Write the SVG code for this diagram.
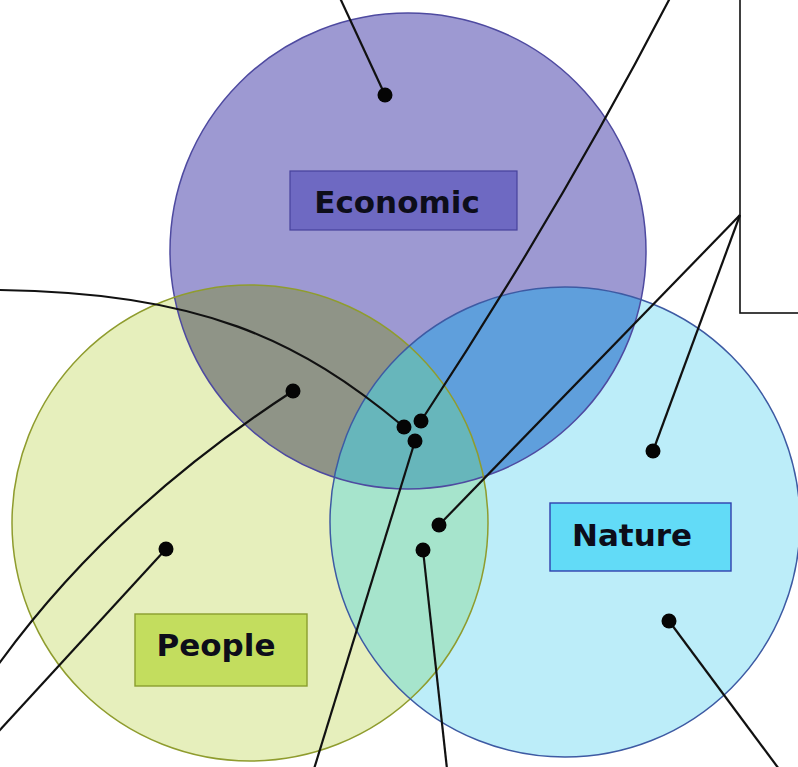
<svg xmlns="http://www.w3.org/2000/svg" width="798" height="767" viewBox="0 0 798 767">
<style>
.lbl{font-family:"DejaVu Sans","Liberation Sans",sans-serif;font-weight:bold;font-size:31px;fill:#0d0d1a;text-anchor:middle}
.conn{fill:none;stroke:#111;stroke-width:2.2}
.dot{fill:#050505}
.ring{fill:none;stroke-width:1.5}
</style>
<defs>
<clipPath id="cE"><circle cx="408" cy="251" r="238"/></clipPath>
<clipPath id="cP"><circle cx="250" cy="523" r="238"/></clipPath>
<clipPath id="cN"><circle cx="565" cy="522" r="235"/></clipPath>
</defs>
<rect width="798" height="767" fill="#ffffff"/>
<g id="box">
<rect x="740" y="-2" width="70" height="315" fill="#ffffff" stroke="#111" stroke-width="1.6"/>
</g>
<g id="economic">
<circle cx="408" cy="251" r="238" fill="#9d99d2"/>
</g>
<g id="people">
<circle cx="250" cy="523" r="238" fill="#e6efbc"/>
</g>
<g id="nature">
<circle cx="565" cy="522" r="235" fill="#bcedf9"/>
</g>
<g id="overlaps">
<g clip-path="url(#cE)"><circle cx="250" cy="523" r="238" fill="#8f9487"/></g>
<g clip-path="url(#cE)"><circle cx="565" cy="522" r="235" fill="#5f9fdc"/></g>
<g clip-path="url(#cP)"><circle cx="565" cy="522" r="235" fill="#a6e4cc"/></g>
<g clip-path="url(#cP)"><g clip-path="url(#cE)"><circle cx="565" cy="522" r="235" fill="#67b6bb"/></g></g>
</g>
<g id="outlines">
<circle class="ring" cx="408" cy="251" r="238" stroke="#4e4aa0"/>
<circle class="ring" cx="250" cy="523" r="238" stroke="#8f9c2e"/>
<circle class="ring" cx="565" cy="522" r="235" stroke="#3d5aa3"/>
</g>
<g id="label-economic">
<rect x="290" y="171" width="227" height="59" fill="#6e69c2" stroke="#46429c" stroke-width="1.2"/>
<text class="lbl" x="397" y="213">Economic</text>
</g>
<g id="label-nature">
<rect x="550" y="503" width="181" height="68" fill="#62dbf7" stroke="#2f3fae" stroke-width="1.4"/>
<text class="lbl" x="632" y="546">Nature</text>
</g>
<g id="label-people">
<rect x="135" y="614" width="172" height="72" fill="#c3dd5e" stroke="#8a9e2e" stroke-width="1.4"/>
<text class="lbl" x="216" y="656">People</text>
</g>
<g id="connectors">
<path class="conn" d="M385,95 L340,-2"/>
<path class="conn" d="M421,421 Q560,210 670,-2"/>
<path class="conn" d="M404,427 C300,340 200,292 -2,290"/>
<path class="conn" d="M415,441 L314,769"/>
<path class="conn" d="M293,391 Q110,510 -2,665"/>
<path class="conn" d="M166,549 L-2,732"/>
<path class="conn" d="M439,525 L740,215"/>
<path class="conn" d="M653,451 L740,215"/>
<path class="conn" d="M423,550 L447,769"/>
<path class="conn" d="M669,621 L779,769"/>
<circle class="dot" cx="385" cy="95" r="7.5"/>
<circle class="dot" cx="421" cy="421" r="7.5"/>
<circle class="dot" cx="404" cy="427" r="7.5"/>
<circle class="dot" cx="415" cy="441" r="7.5"/>
<circle class="dot" cx="293" cy="391" r="7.5"/>
<circle class="dot" cx="166" cy="549" r="7.5"/>
<circle class="dot" cx="439" cy="525" r="7.5"/>
<circle class="dot" cx="653" cy="451" r="7.5"/>
<circle class="dot" cx="423" cy="550" r="7.5"/>
<circle class="dot" cx="669" cy="621" r="7.5"/>
</g>
</svg>
